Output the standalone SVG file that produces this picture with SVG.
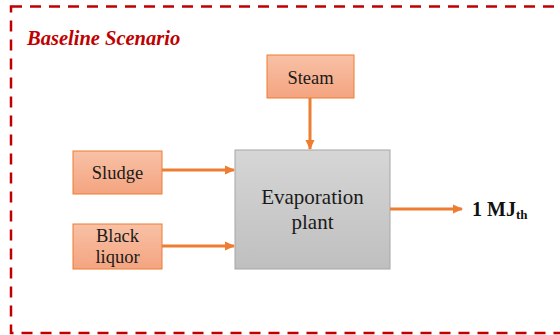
<svg xmlns="http://www.w3.org/2000/svg" width="560" height="335" viewBox="0 0 560 335">
<defs>
<linearGradient id="og" x1="0" y1="0" x2="0" y2="1"><stop offset="0" stop-color="#F8C1A6"/><stop offset="1" stop-color="#F4A480"/></linearGradient>
<linearGradient id="gg" x1="0" y1="0" x2="0" y2="1"><stop offset="0" stop-color="#D6D6D6"/><stop offset="1" stop-color="#BFBFBF"/></linearGradient>
<marker id="ah" markerWidth="10" markerHeight="10" refX="9" refY="5" orient="auto" markerUnits="userSpaceOnUse"><path d="M0,0.5 L10,5 L0,9.5 z" fill="#ED7D31"/></marker>
<style>
text{font-family:"Liberation Serif","Times New Roman",serif}
.ob{fill:url(#og);stroke:#ED7D31;stroke-width:1}
.gb{fill:url(#gg);stroke:#A6A6A6;stroke-width:1}
.t{fill:#1a1a1a;text-anchor:middle;font-size:18.5px}
.c{stroke:#ED7D31;stroke-width:3;fill:none;marker-end:url(#ah)}
</style>
</defs>
<rect x="11" y="6.5" width="560" height="326.5" fill="none" stroke="#C00000" stroke-width="2.5" stroke-dasharray="11 8"/>
<text x="27" y="44.5" font-size="20.5" font-weight="bold" font-style="italic" fill="#C00000">Baseline Scenario</text>
<g id="steam"><rect class="ob" x="267" y="55" width="87" height="43"/><text class="t" x="310.5" y="83.5">Steam</text></g>
<g id="sludge"><rect class="ob" x="73" y="151" width="89" height="43"/><text class="t" x="117.5" y="179">Sludge</text></g>
<g id="black-liquor"><rect class="ob" x="73" y="224" width="89" height="45"/><text class="t" x="117.5" y="241.5">Black</text><text class="t" x="117.5" y="262.5">liquor</text></g>
<g id="evaporation"><rect class="gb" x="235" y="150" width="155" height="119"/><text class="t" x="312.5" y="204" style="font-size:21px">Evaporation</text><text class="t" x="312.5" y="228.5" style="font-size:21px">plant</text></g>
<g id="output"><text x="472" y="216" font-size="20" font-weight="bold" fill="#111">1 MJ<tspan font-size="13" dy="3">th</tspan></text></g>
<g id="connectors">
<line class="c" x1="310" y1="98" x2="310" y2="149"/>
<line class="c" x1="162" y1="170" x2="234" y2="170"/>
<line class="c" x1="162" y1="246" x2="234" y2="246"/>
<line class="c" x1="390" y1="209" x2="462" y2="209"/>
</g>
</svg>
